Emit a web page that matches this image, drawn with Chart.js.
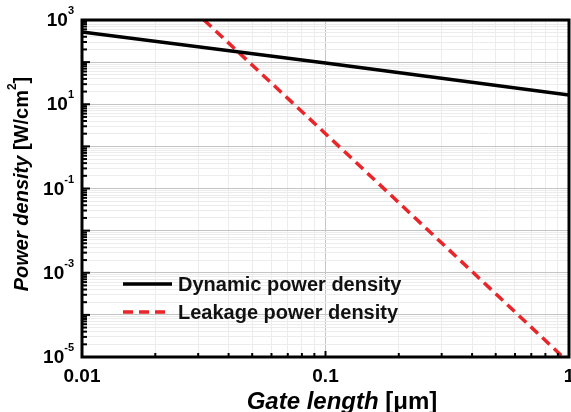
<!DOCTYPE html>
<html>
<head>
<meta charset="utf-8">
<script src="https://cdn.jsdelivr.net/npm/chart.js@4/dist/chart.umd.min.js"></script>
<style>
  html, body { margin: 0; padding: 0; background: #fff; }
  canvas { display: block; }
</style>
</head>
<body>
<canvas id="chart" width="571" height="412"></canvas>
<script>
// values
const gateLength = [0.01, 0.1, 1]
const dynamicPower = [520, 95, 16.5]
const leakageGate = [0.0317, 0.1, 0.944]
const leakagePower = [1000, 2, 1e-5]

const seriesNames = ['Dynamic power density', 'Leakage power density']
const xTickValues = [0.01, 0.02, 0.03, 0.04, 0.05, 0.06, 0.07, 0.08, 0.09, 0.1, 0.2, 0.3, 0.4, 0.5, 0.6, 0.7, 0.8, 0.9, 1]
const xTickLabels = { '0.01': '0.01', '0.1': '0.1', '1': '1' }
const yDecades = [-5, -4, -3, -2, -1, 0, 1, 2, 3]
const yLabelExponents = [3, 1, -1, -3, -5]

const FONT = '"Liberation Sans", Arial, sans-serif'

function toPoints(xs, ys) {
    return xs.map((x, i) => ({ x: x, y: ys[i] }))
}

function yTickValues() {
    const out = []
    yDecades.forEach(d => {
        for (let m = 1; m <= 9; m++) {
            if (d == 3 && m > 1) break
            out.push(Number((m * Math.pow(10, d)).toPrecision(3)))
        }
    })
    return out
}

function isDecade(v) {
    const l = Math.log10(v)
    return Math.abs(l - Math.round(l)) < 1e-6
}

const whiteBg = {
    id: 'whiteBg',
    beforeDraw(chart) {
        const c = chart.ctx
        c.save()
        c.fillStyle = '#fff'
        c.fillRect(0, 0, chart.width, chart.height)
        c.restore()
    }
}

const frame = {
    id: 'frame',
    afterDraw(chart) {
        const c = chart.ctx
        const a = chart.chartArea
        const xs = chart.scales.x
        const ys = chart.scales.y
        c.save()
        c.strokeStyle = '#000'
        c.lineWidth = 2
        // inside ticks
        ys.ticks.forEach(t => {
            const py = ys.getPixelForValue(t.value)
            const len = isDecade(t.value) ? 8 : 5
            c.beginPath()
            c.moveTo(a.left, py)
            c.lineTo(a.left + len, py)
            c.stroke()
        })
        xs.ticks.forEach(t => {
            const px = xs.getPixelForValue(t.value)
            const len = isDecade(t.value) ? 6 : 4
            c.beginPath()
            c.moveTo(px, a.bottom)
            c.lineTo(px, a.bottom - len)
            c.stroke()
        })
        c.lineWidth = 3
        c.strokeRect(a.left, a.top, a.right - a.left, a.bottom - a.top)

        // y tick labels with superscripts
        c.fillStyle = '#000'
        c.textBaseline = 'middle'
        yLabelExponents.forEach(e => {
            const py = ys.getPixelForValue(Math.pow(10, e))
            const exp = String(e)
            c.font = 'bold 11px ' + FONT
            const ew = c.measureText(exp).width
            c.textAlign = 'left'
            const xr = a.left - 8
            c.fillText(exp, xr - ew, py - 9)
            c.font = 'bold 19px ' + FONT
            c.textAlign = 'right'
            c.fillText('10', xr - ew, py + 1)
        })

        // axis titles
        drawMixed(c, [
            { text: 'Gate length ', font: 'italic bold 24px ' + FONT },
            { text: '[\u03bcm]', font: 'bold 24px ' + FONT }
        ], 342, 402)

        c.save()
        c.translate(22, 184)
        c.rotate(-Math.PI / 2)
        drawMixed(c, [
            { text: 'Power density ', font: 'italic bold 20px ' + FONT },
            { text: '[W/cm', font: 'bold 20px ' + FONT },
            { text: '2', font: 'bold 12px ' + FONT, rise: 9 },
            { text: ']', font: 'bold 20px ' + FONT }
        ], 0, 0)
        c.restore()

        // legend
        const rows = [284, 312]
        chart.data.datasets.forEach((ds, i) => {
            c.save()
            c.strokeStyle = ds.borderColor
            c.lineWidth = ds.borderWidth
            c.setLineDash(ds.borderDash || [])
            c.beginPath()
            c.moveTo(123, rows[i])
            c.lineTo(ds.borderDash ? 166 : 172, rows[i])
            c.stroke()
            c.restore()
            c.fillStyle = '#111'
            c.font = 'bold 20px ' + FONT
            c.textAlign = 'left'
            c.textBaseline = 'middle'
            c.fillText(ds.label, 178, rows[i] + 1)
        })
        c.restore()
    }
}

function drawMixed(c, parts, cx, cy) {
    let total = 0
    parts.forEach(p => { c.font = p.font; p.w = c.measureText(p.text).width; total += p.w })
    let x = cx - total / 2
    c.textAlign = 'left'
    c.textBaseline = 'middle'
    c.fillStyle = '#000'
    parts.forEach(p => {
        c.font = p.font
        c.fillText(p.text, x, cy - (p.rise || 0))
        x += p.w
    })
}

new Chart(document.getElementById('chart'), {
    type: 'line',
    data: {
        datasets: [
            {
                label: seriesNames[0],
                data: toPoints(gateLength, dynamicPower),
                borderColor: '#000',
                borderWidth: 3.5,
                pointRadius: 0,
                tension: 0
            },
            {
                label: seriesNames[1],
                data: toPoints(leakageGate, leakagePower),
                borderColor: '#e8262a',
                borderWidth: 3.5,
                borderDash: [10, 6],
                pointRadius: 0,
                tension: 0
            }
        ]
    },
    options: {
        responsive: false,
        devicePixelRatio: 1,
        animation: false,
        layout: { padding: { top: 20, right: 2, left: 0, bottom: 0 } },
        plugins: { legend: { display: false }, tooltip: { enabled: false } },
        scales: {
            x: {
                type: 'logarithmic',
                min: 0.01,
                max: 1,
                afterBuildTicks(scale) {
                    scale.ticks = xTickValues.map(v => ({ value: v }))
                },
                afterFit(scale) {
                    scale.height = 55
                    scale.paddingLeft = 0
                    scale.paddingRight = 0
                },
                grid: {
                    drawTicks: false,
                    color: ctx => ctx.tick && isDecade(ctx.tick.value) ? '#c4c4c4' : '#ececec',
                    lineWidth: 1
                },
                border: { display: false },
                ticks: {
                    autoSkip: false,
                    maxRotation: 0,
                    padding: 8,
                    color: '#000',
                    font: { family: FONT, size: 19, weight: 'bold' },
                    callback: v => xTickLabels[String(Number(v.toPrecision(3)))] || ''
                }
            },
            y: {
                type: 'logarithmic',
                min: 1e-5,
                max: 1e3,
                afterBuildTicks(scale) {
                    scale.ticks = yTickValues().map(v => ({ value: v }))
                },
                afterFit(scale) { scale.width = 82 },
                grid: {
                    drawTicks: false,
                    color: ctx => ctx.tick && isDecade(ctx.tick.value) ? '#c4c4c4' : '#ececec',
                    lineWidth: 1
                },
                border: { display: false },
                ticks: { display: false }
            }
        }
    },
    plugins: [whiteBg, frame]
})
</script>
</body>
</html>
